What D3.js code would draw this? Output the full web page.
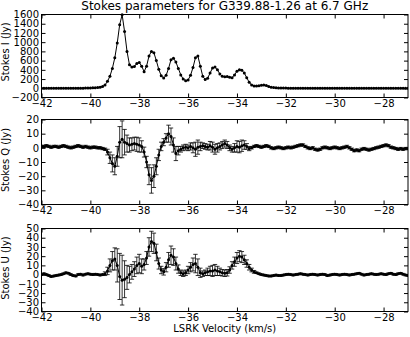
<!DOCTYPE html>
<html>
<head>
<meta charset="utf-8">
<script src="https://cdn.jsdelivr.net/npm/d3@7"></script>
<style>
  body { margin: 0; background: #fff; }
  svg { display: block; font-family: "DejaVu Sans", sans-serif; }
</style>
</head>
<body>
<svg id="chart" width="410" height="337"></svg>
<script>
// LSRK velocity of each channel (km/s)
const velocity = [
  -42.0, -41.9, -41.8, -41.7, -41.6, -41.5, -41.4, -41.3, -41.2, -41.1,
  -41.0, -40.9, -40.8, -40.7, -40.6, -40.5, -40.4, -40.3, -40.2, -40.1,
  -40.0, -39.9, -39.8, -39.7, -39.6, -39.5, -39.4, -39.3, -39.2, -39.1,
  -39.0, -38.9, -38.8, -38.7, -38.6, -38.5, -38.4, -38.3, -38.2, -38.1,
  -38.0, -37.9, -37.8, -37.7, -37.6, -37.5, -37.4, -37.3, -37.2, -37.1,
  -37.0, -36.9, -36.8, -36.7, -36.6, -36.5, -36.4, -36.3, -36.2, -36.1,
  -36.0, -35.9, -35.8, -35.7, -35.6, -35.5, -35.4, -35.3, -35.2, -35.1,
  -35.0, -34.9, -34.8, -34.7, -34.6, -34.5, -34.4, -34.3, -34.2, -34.1,
  -34.0, -33.9, -33.8, -33.7, -33.6, -33.5, -33.4, -33.3, -33.2, -33.1,
  -33.0, -32.9, -32.8, -32.7, -32.6, -32.5, -32.4, -32.3, -32.2, -32.1,
  -32.0, -31.9, -31.8, -31.7, -31.6, -31.5, -31.4, -31.3, -31.2, -31.1,
  -31.0, -30.9, -30.8, -30.7, -30.6, -30.5, -30.4, -30.3, -30.2, -30.1,
  -30.0, -29.9, -29.8, -29.7, -29.6, -29.5, -29.4, -29.3, -29.2, -29.1,
  -29.0, -28.9, -28.8, -28.7, -28.6, -28.5, -28.4, -28.3, -28.2, -28.1,
  -28.0, -27.9, -27.8, -27.7, -27.6, -27.5, -27.4, -27.3, -27.2, -27.1,
  -27.0
]

// Stokes I (Jy)
const stokesI = [
  0, 1, 0, 1, 1, 0, 1, 2, 1, 1,
  2, 1, 2, 2, 3, 3, 2, 3, 4, 5,
  6, 10, 14, 18, 24, 40, 70, 150, 260, 430,
  660, 980, 1380, 1595, 1230, 800, 510, 460, 470, 540,
  560, 480, 360, 480, 700, 800, 770, 600, 410, 270,
  225, 280, 430, 620, 650, 570, 430, 290, 200, 165,
  180, 280, 450, 660, 700, 480, 260, 190, 220, 330,
  440, 460, 400, 310, 260, 250, 255, 240, 230, 290,
  370, 400, 390, 330, 230, 130, 70, 50, 50, 55,
  65, 70, 60, 40, 25, 15, 10, 8, 6, 5,
  4, 3, 3, 2, 3, 2, 2, 3, 2, 2,
  1, 2, 2, 1, 2, 1, 1, 2, 1, 1,
  2, 1, 1, 2, 1, 1, 0, 1, 1, 2,
  1, 1, 0, 1, 1, 0, 1, 1, 0, 1,
  0, 1, 0, 0, 1, 0, 0, 1, 0, 0,
  1
]

// Stokes Q (Jy) and its errors
const stokesQ = [
  1, 1, 1.5, 1, 0.5, 1, 1, 0.5, 1, 1.5,
  1, 0.5, 0, 0.5, 1, 1.5, 1, 0.5, 1, 0.5,
  0, 0.5, 0.5, 0, 0, -0.5, -1, -3, -7, -11,
  -13, -6, 4, 6, 4, 3, 2, 2.5, 3, 2.5,
  2, 1, -3, -10, -19, -23, -20, -13, -5, 1,
  4, 7, 10, 8, 2, -4, -2, -1, 0, 0.5,
  0, 1, 0, -1, 0.5, 1, 1.5, 1, 0.5, 1.5,
  0.5, -1, 0, 1, 2, 3, 2, 0, -1, 0,
  1, 0.5, 1.5, 2, 1, -0.5, 0, 1, 1.5, 1,
  0.5, 1, 1.5, 1, 0, -0.5, 0, 0.5, 0, -0.5,
  0, 0.5, 0, 0.5, 1, 1.5, 2, 2, 1, 0,
  -0.5, 0, -1, -1.5, -1, 0, 0.5, 0, -0.5, 0,
  0.5, 0, -0.5, 0, 0.5, 1, 0, -1, -2, -1.5,
  -2, -1, -0.5, -1, -1.5, -1, -0.5, 0, 0.5, 1,
  1.5, 2, 1.5, 0.5, 0, -0.5, -1, -0.5, -1, -0.5,
  -0.5
]
const errorQ = [
  0.8, 0.8, 0.8, 0.8, 0.8, 0.8, 0.8, 0.8, 0.8, 0.8,
  0.8, 0.8, 0.8, 0.8, 0.8, 0.8, 0.8, 0.8, 0.8, 0.8,
  0.8, 0.8, 0.8, 0.8, 0.8, 0.8, 0.8, 2, 4, 6,
  6, 7, 11, 13, 9, 6, 5, 4.5, 4.5, 5,
  5, 4, 3.5, 4, 7, 9, 8, 6, 4, 3,
  2.5, 3, 6, 6, 5, 5, 3, 2, 2, 2,
  2, 2.5, 3.5, 5, 5, 3, 2, 2, 2, 3,
  3.5, 3.5, 3, 2.5, 2.5, 2.5, 2.5, 2, 2, 3,
  4, 4, 4, 3, 2, 1.5, 0.8, 0.8, 0.8, 0.8,
  0.8, 0.8, 0.8, 0.8, 0.8, 0.8, 0.8, 0.8, 0.8, 0.8,
  0.8, 0.8, 0.8, 0.8, 0.8, 0.8, 0.8, 0.8, 0.8, 0.8,
  0.8, 0.8, 0.8, 0.8, 0.8, 0.8, 0.8, 0.8, 0.8, 0.8,
  0.8, 0.8, 0.8, 0.8, 0.8, 0.8, 0.8, 0.8, 0.8, 0.8,
  0.8, 0.8, 0.8, 0.8, 0.8, 0.8, 0.8, 0.8, 0.8, 0.8,
  0.8, 0.8, 0.8, 0.8, 0.8, 0.8, 0.8, 0.8, 0.8, 0.8,
  0.8
]

// Stokes U (Jy) and its errors
const stokesU = [
  0, 1, 0, -1, -2, -1.5, -1, -0.5, 0, 1,
  2, 1.5, 0, -1, -1.5, 0, 0.5, -0.5, 0.5, 1,
  0.5, 0, 0.5, 0, -0.5, 0, 1, 4, 10, 15,
  17, 10, -2, -6, -5, -3, 0, 3, 6, 10,
  12, 9, 11, 18, 30, 36, 34, 24, 12, 5,
  3, 8, 16, 21, 19, 12, 6, 2, 1, 2,
  5, 8, 11, 12, 8, 2, 1, 2, 3, 4,
  4, 5, 4, 3, 2, 1.5, 2, 5, 10, 14,
  18, 20, 19, 16, 12, 8, 5, 3, 2, 1,
  0, -0.5, -1, -1.5, -1.5, -1, -0.5, -1, -1, -0.5,
  0, 0.5, 0, -0.5, 0, 0.5, 1, 0.5, 0, -0.5,
  0, 0.5, 0, -0.5, 0, 0.5, 0, -1, -0.5, 0,
  0.5, 0, -0.5, 0, 0.5, 0, -0.5, 0, 0.5, 1,
  1.5, 0.5, -0.5, 0, 0.5, 1, 0.5, 0, 0.5, 1,
  0.5, 0, 1, 1.5, 0.5, 0, 1, 1.5, 0.5, -0.5,
  -1
]
const errorU = [
  0.8, 0.8, 0.8, 0.8, 0.8, 0.8, 0.8, 0.8, 0.8, 0.8,
  0.8, 0.8, 0.8, 0.8, 0.8, 0.8, 0.8, 0.8, 0.8, 0.8,
  0.8, 0.8, 0.8, 0.8, 0.8, 0.8, 2, 4, 7, 10,
  12, 18, 25, 27, 20, 13, 9, 8, 8, 9,
  10, 8, 6, 7, 10, 11, 11, 9, 6, 4,
  3.5, 5, 8, 10, 9, 7, 4.5, 3, 3, 3,
  4, 5, 7, 10, 9, 5, 3, 3, 4, 5,
  6, 6, 5, 4, 3.5, 3.5, 3.5, 3.5, 4, 5,
  6, 6, 6, 5, 4, 3, 2, 1.5, 0.8, 0.8,
  0.8, 0.8, 0.8, 0.8, 0.8, 0.8, 0.8, 0.8, 0.8, 0.8,
  0.8, 0.8, 0.8, 0.8, 0.8, 0.8, 0.8, 0.8, 0.8, 0.8,
  0.8, 0.8, 0.8, 0.8, 0.8, 0.8, 0.8, 0.8, 0.8, 0.8,
  0.8, 0.8, 0.8, 0.8, 0.8, 0.8, 0.8, 0.8, 0.8, 0.8,
  0.8, 0.8, 0.8, 0.8, 0.8, 0.8, 0.8, 0.8, 0.8, 0.8,
  0.8, 0.8, 0.8, 0.8, 0.8, 0.8, 0.8, 0.8, 0.8, 0.8,
  0.8
]

// tick values
const velocityTicks = [-42, -40, -38, -36, -34, -32, -30, -28]
const iTicks = [-200, 0, 200, 400, 600, 800, 1000, 1200, 1400, 1600]
const qTicks = [-40, -30, -20, -10, 0, 10, 20]
const uTicks = [-40, -30, -20, -10, 0, 10, 20, 30, 40, 50]

const svg = d3.select('#chart')
const left = 41.5
const right = 408

const x = d3.scaleLinear()
  .domain([-42, -27])
  .range([left, right])

const panels = [
  { id: 'i', values: stokesI, errors: null, domain: [-200, 1600], ticks: iTicks, top: 14.5, bottom: 97.5, label: 'Stokes I (Jy)', labelY: 52 },
  { id: 'q', values: stokesQ, errors: errorQ, domain: [-40, 20], ticks: qTicks, top: 119.5, bottom: 204.5, label: 'Stokes Q (Jy)', labelY: 160 },
  { id: 'u', values: stokesU, errors: errorU, domain: [-40, 50], ticks: uTicks, top: 228.5, bottom: 311.5, label: 'Stokes U (Jy)', labelY: 268 }
]

panels.forEach(p => {
  const y = d3.scaleLinear()
    .domain(p.domain)
    .range([p.bottom, p.top])

  svg.append('clipPath')
    .attr('id', 'clip-' + p.id)
    .append('rect')
    .attr('x', left)
    .attr('y', p.top - 2)
    .attr('width', right - left)
    .attr('height', p.bottom - p.top + 2)

  const plot = svg.append('g').attr('clip-path', `url(#clip-${p.id})`)
  const points = velocity.map((v, i) => ({ v: v, val: p.values[i], err: p.errors ? p.errors[i] : 0 }))

  // error bars
  if (p.errors) {
    const bars = plot.append('g')
      .attr('stroke', '#000')
      .attr('stroke-width', 0.8)
    bars.selectAll('.ebar')
      .data(points)
      .join('line')
      .attr('class', 'ebar')
      .attr('x1', d => x(d.v))
      .attr('x2', d => x(d.v))
      .attr('y1', d => y(d.val - d.err))
      .attr('y2', d => y(d.val + d.err))
    bars.selectAll('.cap-top')
      .data(points)
      .join('line')
      .attr('class', 'cap-top')
      .attr('x1', d => x(d.v) - 2.2)
      .attr('x2', d => x(d.v) + 2.2)
      .attr('y1', d => y(d.val + d.err))
      .attr('y2', d => y(d.val + d.err))
    bars.selectAll('.cap-bottom')
      .data(points)
      .join('line')
      .attr('class', 'cap-bottom')
      .attr('x1', d => x(d.v) - 2.2)
      .attr('x2', d => x(d.v) + 2.2)
      .attr('y1', d => y(d.val - d.err))
      .attr('y2', d => y(d.val - d.err))
  }

  const line = d3.line()
    .x(d => x(d.v))
    .y(d => y(d.val))

  plot.append('path')
    .datum(points)
    .attr('fill', 'none')
    .attr('stroke', '#000')
    .attr('stroke-width', 1)
    .attr('d', line)

  plot.selectAll('.dot')
    .data(points)
    .join('circle')
    .attr('class', 'dot')
    .attr('cx', d => x(d.v))
    .attr('cy', d => y(d.val))
    .attr('r', 1.5)
    .attr('fill', '#000')

  // axes, ticks pointing inward on all four sides
  const bottomAxis = svg.append('g')
    .attr('transform', `translate(0,${p.bottom})`)
    .call(d3.axisBottom(x).tickValues(velocityTicks).tickSizeInner(-4).tickSizeOuter(0).tickPadding(2.5).tickFormat(d3.format('d')))
  const topAxis = svg.append('g')
    .attr('transform', `translate(0,${p.top})`)
    .call(d3.axisTop(x).tickValues(velocityTicks).tickSizeInner(-4).tickSizeOuter(0).tickFormat(''))
  const leftAxis = svg.append('g')
    .attr('transform', `translate(${left},0)`)
    .call(d3.axisLeft(y).tickValues(p.ticks).tickSizeInner(-4).tickSizeOuter(0).tickPadding(2.5).tickFormat(d3.format('d')))
  const rightAxis = svg.append('g')
    .attr('transform', `translate(${right},0)`)
    .call(d3.axisRight(y).tickValues(p.ticks).tickSizeInner(-4).tickSizeOuter(0).tickFormat(''))

  ;[bottomAxis, topAxis, leftAxis, rightAxis].forEach(a => {
    a.select('.domain').remove()
    a.selectAll('text')
      .style('font-family', '"DejaVu Sans", sans-serif')
      .style('font-size', '10px')
      .attr('fill', '#000')
  })
  topAxis.selectAll('text').remove()
  rightAxis.selectAll('text').remove()

  svg.append('rect')
    .attr('x', left)
    .attr('y', p.top)
    .attr('width', right - left)
    .attr('height', p.bottom - p.top)
    .attr('fill', 'none')
    .attr('stroke', '#000')
    .attr('stroke-width', 1)

  svg.append('text')
    .attr('transform', `translate(9,${p.labelY}) rotate(-90)`)
    .attr('text-anchor', 'middle')
    .style('font-size', '10px')
    .text(p.label)
})

svg.append('text')
  .attr('x', (left + right) / 2)
  .attr('y', 10)
  .attr('text-anchor', 'middle')
  .style('font-size', '12px')
  .text('Stokes parameters for G339.88-1.26 at 6.7 GHz')

svg.append('text')
  .attr('x', (left + right) / 2)
  .attr('y', 332)
  .attr('text-anchor', 'middle')
  .style('font-size', '10px')
  .text('LSRK Velocity (km/s)')
</script>
</body>
</html>
